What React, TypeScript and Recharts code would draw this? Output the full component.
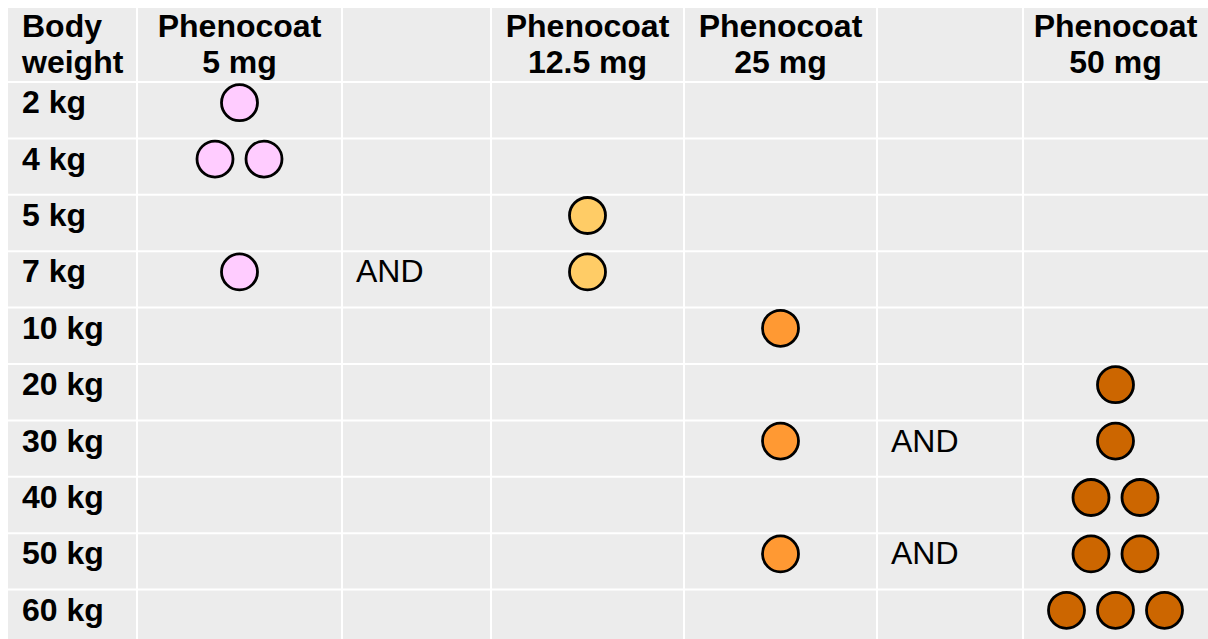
import React from 'react';
import { ScatterChart, Scatter, XAxis, YAxis, ReferenceArea, ReferenceLine } from 'recharts';

// Dosing table: body weight rows, tablet strength columns
const rowLabels = ['2 kg', '4 kg', '5 kg', '7 kg', '10 kg', '20 kg', '30 kg', '40 kg', '50 kg', '60 kg'];
const columnHeaders = [
  ['Body', 'weight'],
  ['Phenocoat', '5 mg'],
  [],
  ['Phenocoat', '12.5 mg'],
  ['Phenocoat', '25 mg'],
  [],
  ['Phenocoat', '50 mg'],
];
const columnWidths = [129, 205, 149, 193, 193, 146, 185];

// number of tablets per row (same order as rowLabels)
const tablets5mg = [1, 2, 0, 1, 0, 0, 0, 0, 0, 0];
const tablets12_5mg = [0, 0, 1, 1, 0, 0, 0, 0, 0, 0];
const tablets25mg = [0, 0, 0, 0, 1, 0, 1, 0, 1, 0];
const tablets50mg = [0, 0, 0, 0, 0, 1, 1, 2, 2, 3];

// "AND" connectors: column index -> rows
const andColumn2Rows = ['7 kg'];
const andColumn5Rows = ['30 kg', '50 kg'];

const WIDTH = 1200;
const HEIGHT = 638;
const ROW_PX = 56.4;
const HEADER_PX = 74;
const HEADER_UNITS = HEADER_PX / ROW_PX;
const PAD = 14;
const TABLET_GAP = 49;
const FONT = "'Liberation Sans', Arial, Helvetica, sans-serif";

const edges = columnWidths.reduce<number[]>((acc, w) => [...acc, acc[acc.length - 1] + w], [0]);
const centerOf = (col: number) => (edges[col] + edges[col + 1]) / 2;

const series = [
  { name: '5 mg', counts: tablets5mg, column: 1, color: '#ffccff' },
  { name: '12.5 mg', counts: tablets12_5mg, column: 3, color: '#ffcc66' },
  { name: '25 mg', counts: tablets25mg, column: 4, color: '#ff9933' },
  { name: '50 mg', counts: tablets50mg, column: 6, color: '#cc6600' },
];

const tabletPoints = (counts: number[], column: number) =>
  counts.flatMap((n, row) =>
    Array.from({ length: n }, (_, k) => ({
      x: centerOf(column) + (k - (n - 1) / 2) * TABLET_GAP,
      y: row + 0.5,
    }))
  );

const headerData = columnHeaders
  .map((lines, col) => ({
    x: col === 0 ? edges[0] + PAD : centerOf(col),
    y: -HEADER_UNITS / 2,
    lines,
    anchor: col === 0 ? 'start' : 'middle',
  }))
  .filter((d) => d.lines.length > 0);

const rowLabelData = rowLabels.map((label, row) => ({ x: edges[0] + PAD, y: row + 0.5, label }));

const andData = [
  ...andColumn2Rows.map((r) => ({ x: edges[2] + PAD, y: rowLabels.indexOf(r) + 0.5, label: 'AND' })),
  ...andColumn5Rows.map((r) => ({ x: edges[5] + PAD, y: rowLabels.indexOf(r) + 0.5, label: 'AND' })),
];

const HeaderText = (props: any) => {
  const { cx, cy, payload } = props;
  return (
    <text x={cx} textAnchor={payload.anchor} fontFamily={FONT} fontWeight="bold" fontSize={32} fill="#000">
      {payload.lines.map((line: string, i: number) => (
        <tspan key={i} x={cx} y={cy - 8.5 + i * 36}>
          {line}
        </tspan>
      ))}
    </text>
  );
};

const CellText = (bold: boolean) => (props: any) => {
  const { cx, cy, payload } = props;
  return (
    <text
      x={cx}
      y={cy + 3}
      textAnchor="start"
      fontFamily={FONT}
      fontWeight={bold ? 'bold' : 'normal'}
      fontSize={32}
      fill="#000"
    >
      {payload.label}
    </text>
  );
};

const Tablet = (color: string) => (props: any) => {
  const { cx, cy } = props;
  return <circle cx={cx} cy={cy - 7.5} r={18} fill={color} stroke="#000" strokeWidth={2.8} />;
};

export default function App() {
  return (
    <div style={{ padding: '8px 0 0 8px', width: WIDTH + 8, height: HEIGHT + 8, boxSizing: 'border-box' }}>
      <style>{'html{overflow:hidden}body{margin:0}'}</style>
      <ScatterChart width={WIDTH} height={HEIGHT} margin={{ top: 0, right: 0, bottom: 0, left: 0 }}>
        <XAxis type="number" dataKey="x" domain={[0, WIDTH]} hide />
        <YAxis type="number" dataKey="y" domain={[-HEADER_UNITS, rowLabels.length]} reversed hide />
        <ReferenceArea
          x1={0}
          x2={WIDTH}
          y1={-HEADER_UNITS}
          y2={rowLabels.length}
          fill="#ececec"
          fillOpacity={1}
          stroke="none"
        />
        {edges.slice(1, -1).map((x) => (
          <ReferenceLine key={`v${x}`} x={x} stroke="#ffffff" strokeWidth={2} />
        ))}
        {rowLabels.map((_, i) => (
          <ReferenceLine key={`h${i}`} y={i} stroke="#ffffff" strokeWidth={2} />
        ))}
        <Scatter data={headerData} shape={HeaderText} isAnimationActive={false} />
        <Scatter data={rowLabelData} shape={CellText(true)} isAnimationActive={false} />
        <Scatter data={andData} shape={CellText(false)} isAnimationActive={false} />
        {series.map((s) => (
          <Scatter
            key={s.name}
            name={s.name}
            data={tabletPoints(s.counts, s.column)}
            shape={Tablet(s.color)}
            isAnimationActive={false}
          />
        ))}
      </ScatterChart>
    </div>
  );
}
